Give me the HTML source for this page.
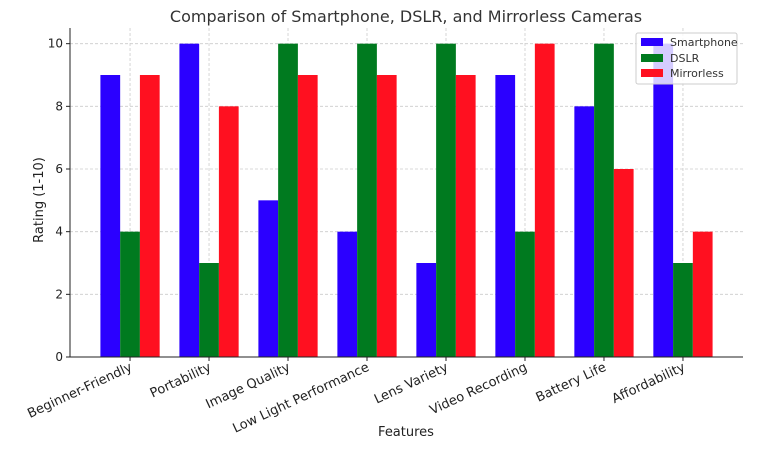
<!DOCTYPE html>
<html><head><meta charset="utf-8"><style>
body{margin:0;background:#fff;font-family:"Liberation Sans","DejaVu Sans",sans-serif;}
svg text{font-family:"DejaVu Sans","Liberation Sans",sans-serif;}
</style></head><body>
<svg id="chart" width="777" height="445" viewBox="0 0 777 445" xmlns="http://www.w3.org/2000/svg">
<rect width="777" height="445" fill="#fff"/>
<text x="406" y="22" text-anchor="middle" font-size="16" fill="#333">Comparison of Smartphone, DSLR, and Mirrorless Cameras</text>
<g id="grid"></g><g id="bars"></g><g id="axes"></g>
<text x="406" y="436" text-anchor="middle" font-size="13" fill="#222">Features</text>
<text transform="translate(43,200) rotate(-90)" text-anchor="middle" font-size="13" fill="#222">Rating (1-10)</text>
<g>
<rect x="636" y="33" width="101" height="51" fill="#fff" fill-opacity="0.8" stroke="#ccc" rx="2"/>
<rect x="641" y="38" width="22" height="8" fill="#2b00ff"/><text x="670" y="46" font-size="11" fill="#333">Smartphone</text>
<rect x="641" y="54" width="22" height="8" fill="#007a1f"/><text x="670" y="62" font-size="11" fill="#333">DSLR</text>
<rect x="641" y="69" width="22" height="8" fill="#ff1020"/><text x="670" y="77" font-size="11" fill="#333">Mirrorless</text>
</g>
</svg>
<script>
const categories=["Beginner-Friendly","Portability","Image Quality","Low Light Performance","Lens Variety","Video Recording","Battery Life","Affordability"];
const smartphone=[9,10,5,4,3,9,8,10];
const dslr=[4,3,10,10,10,4,10,3];
const mirrorless=[9,8,9,9,9,10,6,4];
const yTicks=[0,2,4,6,8,10];
const NS="http://www.w3.org/2000/svg";
const L=70,R=743,T=28,B=357;
const xMin=-0.76,xMax=7.76,yMax=10.5;
const x=v=>L+(v-xMin)/(xMax-xMin)*(R-L);
const y=v=>B-v/yMax*(B-T);
function mk(tag,a,p){const e=document.createElementNS(NS,tag);for(const k in a)e.setAttribute(k,a[k]);p.appendChild(e);return e;}
const grid=document.getElementById('grid'),bars=document.getElementById('bars'),axes=document.getElementById('axes');
yTicks.forEach(t=>{
 const g=mk('line',{x1:L,x2:R,y1:y(t),y2:y(t),stroke:'#ccc','stroke-dasharray':'3,2','stroke-width':0.8},grid);
 
 
 const tl=mk('text',{x:L-7,y:y(t)+4,'text-anchor':'end','font-size':12,fill:'#222'},axes);
 tl.textContent=t;
 
 
 mk('line',{x1:L-4,x2:L,y1:y(t),y2:y(t),stroke:'#222'},axes);
});
const series=[[smartphone,'#2b00ff','smartphone'],[dslr,'#007a1f','dslr'],[mirrorless,'#ff1020','mirrorless']];
const w=0.25;
categories.forEach((c,i)=>{
 const gl=mk('line',{x1:x(i),x2:x(i),y1:T,y2:B,stroke:'#ccc','stroke-dasharray':'3,2','stroke-width':0.8},grid);
 
 
 series.forEach(([d,col,n],s)=>{
  const x0=x(i+(s-1)*w-w/2),x1=x(i+(s-1)*w+w/2);
  const r=mk('rect',{x:x0,y:y(d[i]),width:x1-x0,height:y(0)-y(d[i]),fill:col},bars);
  
  
 });
 mk('line',{x1:x(i),x2:x(i),y1:B,y2:B+4,stroke:'#222'},axes);
 const t=mk('text',{transform:`translate(${x(i)+3},${B+13}) rotate(-25)`,'text-anchor':'end','font-size':13,fill:'#222'},axes);
 t.textContent=c;
 
 
});
mk('line',{x1:L,x2:L,y1:T,y2:B,stroke:'#222'},axes);
mk('line',{x1:L,x2:R,y1:B,y2:B,stroke:'#222'},axes);
</script>
</body></html>
